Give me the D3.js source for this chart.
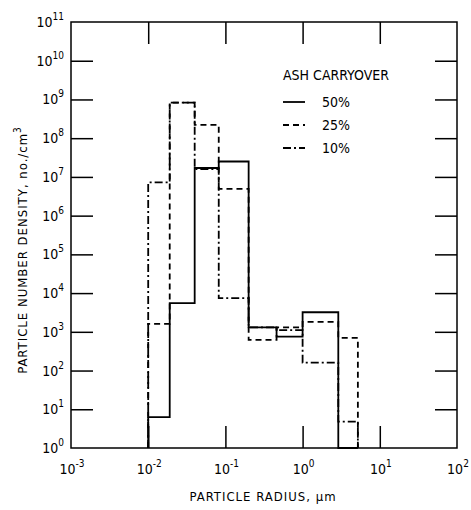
<!DOCTYPE html>
<html><head><meta charset="utf-8">
<script src="https://cdn.jsdelivr.net/npm/d3@7"></script>
<style>html,body{margin:0;padding:0;background:#fff;}svg{display:block;}</style>
</head><body>
<script>
// ---- data ----
const binEdges = [0.01, 0.019, 0.04, 0.082, 0.2, 0.46, 1.0, 2.9, 5.2];
const ash50 = [6.3, 5.5e3, 1.7e7, 2.5e7, 1.3e3, 7.5e2, 3.2e3, 1];
const ash25 = [1.6e3, 8.3e8, 2.2e8, 4.9e6, 6.2e2, 1.3e3, 1.8e3, 7e2];
const ash10 = [7.2e6, 8.3e8, 1.6e7, 7.4e3, 1.3e3, 1.1e3, 1.6e2, 4.8];
const seriesNames = ["50%", "25%", "10%"];
const xTickExps = [-3, -2, -1, 0, 1, 2];
const yTickExps = [0, 1, 2, 3, 4, 5, 6, 7, 8, 9, 10, 11];

const W = 471, H = 510;
const svg = d3.select("body").append("svg").attr("width", W).attr("height", H)
  .style("font-family", "'Liberation Sans Narrow','DejaVu Sans Condensed','Liberation Sans',sans-serif");
svg.append("rect").attr("width", W).attr("height", H).attr("fill", "#fff");

const x = d3.scaleLog().domain([1e-3, 1e2]).range([71, 457]);
const y = d3.scaleLog().domain([1, 1e11]).range([448, 22]);

const styles = [
  {data: ash50, dash: null},
  {data: ash25, dash: "6,4"},
  {data: ash10, dash: "8,3,2,3"}
];

// histogram step lines
styles.forEach(s => {
  const pts = [[binEdges[0], 1]];
  s.data.forEach((v, i) => {
    pts.push([binEdges[i], v]);
    pts.push([binEdges[i + 1], v]);
  });
  pts.push([binEdges[binEdges.length - 1], 1]);
  svg.append("path")
    .attr("d", d3.line().x(d => x(d[0])).y(d => y(d[1]))(pts))
    .attr("fill", "none").attr("stroke", "#000").attr("stroke-width", 1.8)
    .attr("stroke-dasharray", s.dash);
});

// frame
svg.append("rect").attr("x", x(1e-3)).attr("y", y(1e11))
  .attr("width", x(1e2) - x(1e-3)).attr("height", y(1) - y(1e11))
  .attr("fill", "none").attr("stroke", "#000").attr("stroke-width", 1.5);

// axes with inward ticks
const tl = 22;
const yVals = yTickExps.slice(1, -1).map(e => Math.pow(10, e));
const xVals = xTickExps.slice(1, -1).map(e => Math.pow(10, e));
const yAxisL = d3.axisLeft(y).tickValues(yVals).tickSize(-tl).tickFormat("");
const yAxisR = d3.axisRight(y).tickValues(yVals).tickSize(-tl).tickFormat("");
const xAxisB = d3.axisBottom(x).tickValues(xVals).tickSize(-tl).tickFormat("");
const xAxisT = d3.axisTop(x).tickValues(xVals).tickSize(-tl).tickFormat("");
[[yAxisL, `translate(${x(1e-3)},0)`], [yAxisR, `translate(${x(1e2)},0)`],
 [xAxisB, `translate(0,${y(1)})`], [xAxisT, `translate(0,${y(1e11)})`]].forEach(([ax, tr]) => {
  const g = svg.append("g").attr("transform", tr).call(ax);
  g.select(".domain").remove();
  g.selectAll("line").attr("stroke", "#000").attr("stroke-width", 1.5);
});

// tick labels
yTickExps.forEach(e => {
  const t = svg.append("text").attr("x", 64).attr("y", y(Math.pow(10, e)) + 5)
    .attr("text-anchor", "end").attr("font-size", 14).attr("fill", "#000");
  t.append("tspan").text("10");
  t.append("tspan").attr("dy", -7).attr("font-size", 10).text(String(e));
});
xTickExps.forEach(e => {
  const t = svg.append("text").attr("x", x(Math.pow(10, e)) + 1).attr("y", 474)
    .attr("text-anchor", "middle").attr("font-size", 14).attr("fill", "#000");
  t.append("tspan").text("10");
  t.append("tspan").attr("dy", -7).attr("font-size", 10).text(e < 0 ? "-" + Math.abs(e) : String(e));
});

// axis titles
svg.append("text").attr("x", 263).attr("y", 501).attr("text-anchor", "middle")
  .attr("font-size", 13).attr("letter-spacing", 1).text("PARTICLE RADIUS, μm");
const yt = svg.append("text").attr("transform", "translate(27,250) rotate(-90)")
  .attr("text-anchor", "middle").attr("font-size", 13).attr("letter-spacing", 1);
yt.append("tspan").text("PARTICLE NUMBER DENSITY, no./cm");
yt.append("tspan").attr("dy", -6).attr("font-size", 10).text("3");

// legend
svg.append("text").attr("x", 283).attr("y", 80).attr("font-size", 14).text("ASH CARRYOVER");
const legY = [102, 125, 148];
styles.forEach((s, i) => {
  svg.append("line").attr("x1", 283).attr("x2", 305).attr("y1", legY[i]).attr("y2", legY[i])
    .attr("stroke", "#000").attr("stroke-width", 1.8).attr("stroke-dasharray", s.dash);
  svg.append("text").attr("x", 322).attr("y", legY[i] + 5).attr("font-size", 14).text(seriesNames[i]);
});
</script>
</body></html>
